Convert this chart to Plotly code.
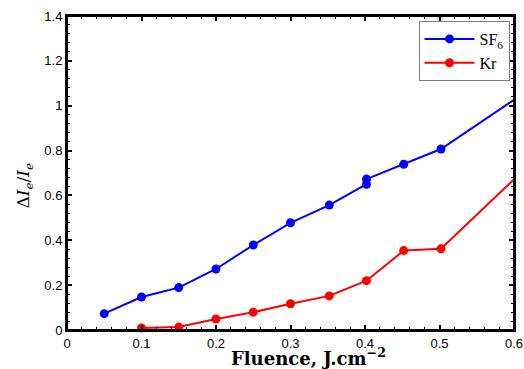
import plotly.graph_objects as go

fluence_sf6 = [0.05, 0.10, 0.15, 0.20, 0.25, 0.30, 0.352, 0.402, 0.402, 0.452, 0.502, 0.603]
signal_sf6 = [0.073, 0.147, 0.189, 0.272, 0.379, 0.478, 0.557, 0.650, 0.673, 0.739, 0.807, 1.033]

fluence_kr = [0.10, 0.15, 0.20, 0.25, 0.30, 0.352, 0.402, 0.452, 0.502, 0.603]
signal_kr = [0.009, 0.013, 0.049, 0.079, 0.117, 0.152, 0.220, 0.354, 0.362, 0.681]

x_ticks = [0, 0.1, 0.2, 0.3, 0.4, 0.5, 0.6]
x_tick_labels = ["0", "0.1", "0.2", "0.3", "0.4", "0.5", "0.6"]
y_ticks = [0, 0.2, 0.4, 0.6, 0.8, 1.0, 1.2, 1.4]
y_tick_labels = ["0", "0.2", "0.4", "0.6", "0.8", "1", "1.2", "1.4"]

fig = go.Figure()
fig.add_trace(go.Scatter(x=fluence_sf6, y=signal_sf6, mode="lines+markers", name="SF<sub>6</sub>",
                         line=dict(color="rgb(0,0,255)", width=2),
                         marker=dict(color="rgb(0,0,255)", size=9), cliponaxis=False))
fig.add_trace(go.Scatter(x=fluence_kr, y=signal_kr, mode="lines+markers", name="Kr",
                         line=dict(color="rgb(255,0,0)", width=2),
                         marker=dict(color="rgb(255,0,0)", size=9), cliponaxis=False))

axis_common = dict(showline=True, linecolor="black", linewidth=2, mirror="allticks",
                   ticks="inside", ticklen=5, tickwidth=1.5, tickcolor="black",
                   showgrid=False, zeroline=False, automargin=False, ticklabeloverflow="allow",
                   tickfont=dict(family="Liberation Sans, Arial, sans-serif", size=13, color="black"))

fig.update_xaxes(range=[0, 0.6], tickvals=x_ticks, ticktext=x_tick_labels,
                 minor=dict(dtick=0.02, ticks="inside", ticklen=3, tickcolor="black", tickwidth=1.2),
                 **axis_common)
fig.update_yaxes(range=[0, 1.4], tickvals=y_ticks, ticktext=y_tick_labels,
                 minor=dict(dtick=0.04, ticks="inside", ticklen=3, tickcolor="black", tickwidth=1.2),
                 **axis_common)

# axes frame
fig.add_shape(type="rect", xref="paper", yref="paper", x0=0, x1=1, y0=0, y1=1,
              line=dict(color="black", width=2), layer="above")

fig.add_annotation(text="<b>Fluence, J.cm<sup>−2</sup></b>", xref="paper", yref="paper",
                   x=0.54, y=-0.085, xanchor="center", yanchor="middle", showarrow=False,
                   font=dict(family="DejaVu Serif, Liberation Serif, serif", size=18, color="black"))
fig.add_annotation(text="Δ<i>I<sub>e</sub></i>/<i>I<sub>e</sub></i>", xref="paper", yref="paper",
                   x=-0.094, y=0.46, xanchor="center", yanchor="middle", textangle=-90, showarrow=False,
                   font=dict(family="DejaVu Serif, Liberation Serif, serif", size=17, color="black"))

fig.update_layout(width=524, height=369, margin=dict(l=67, r=10, t=16, b=39),
                  plot_bgcolor="white", paper_bgcolor="white",
                  legend=dict(x=0.99, y=0.984, xanchor="right", yanchor="top",
                              bgcolor="white", bordercolor="gray", borderwidth=1,
                              font=dict(family="Liberation Serif, DejaVu Serif, serif", size=16, color="black"),
                              tracegroupgap=0, itemwidth=50))

fig.write_html("out.html", config={"displayModeBar": False},
               post_script="document.body.style.margin='0px';document.body.style.overflow='hidden';document.documentElement.style.overflow='hidden';")
